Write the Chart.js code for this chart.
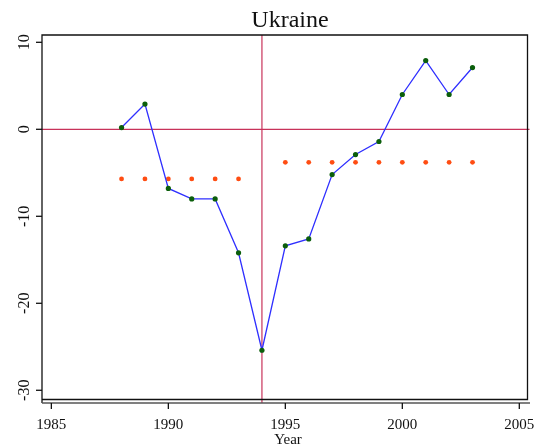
<!DOCTYPE html>
<html>
<head>
<meta charset="utf-8">
<script src="https://cdn.jsdelivr.net/npm/chart.js"></script>
<style>
  body { margin: 0; background: #fff; }
</style>
</head>
<body>
<canvas id="chart" width="548" height="446"></canvas>
<script>
// Ukraine series
const years = [1988, 1989, 1990, 1991, 1992, 1993, 1994, 1995, 1996, 1997, 1998, 1999, 2000, 2001, 2002, 2003];
const values = [0.2, 2.9, -6.8, -8.0, -8.0, -14.2, -25.4, -13.4, -12.6, -5.2, -2.9, -1.4, 4.0, 7.9, 4.0, 7.1];

// period means (orange dots)
const preYears = [1988, 1989, 1990, 1991, 1992, 1993];
const preMean = -5.7;
const postYears = [1995, 1996, 1997, 1998, 1999, 2000, 2001, 2002, 2003];
const postMean = -3.8;

const xTicks = [1985, 1990, 1995, 2000, 2005];
const yTicks = [10, 0, -10, -20, -30];
const breakYear = 1994;

const serif = '"Liberation Serif", "Times New Roman", serif';
const refColor = '#c8325a';

const mainPoints = years.map((y, i) => ({x: y, y: values[i]}));
const meanPoints = preYears.map(y => ({x: y, y: preMean}))
    .concat(postYears.map(y => ({x: y, y: postMean})));

// axes, frame and texts drawn by hand so the labels can sit like Stata's
const stataAxes = {
    id: 'stataAxes',
    beforeDatasetsDraw(chart) {
        const ctx = chart.ctx;
        const a = chart.chartArea;
        const xs = chart.scales.x, ys = chart.scales.y;
        ctx.save();
        ctx.strokeStyle = refColor;
        ctx.lineWidth = 1.2;
        const y0 = ys.getPixelForValue(0);
        ctx.beginPath();
        ctx.moveTo(a.left, y0);
        ctx.lineTo(a.right + 2, y0);
        ctx.stroke();
        const xb = xs.getPixelForValue(breakYear);
        ctx.beginPath();
        ctx.moveTo(xb, a.top);
        ctx.lineTo(xb, a.bottom + 3.5);
        ctx.stroke();
        ctx.restore();
    },
    afterDraw(chart) {
        const ctx = chart.ctx;
        const a = chart.chartArea;
        const xs = chart.scales.x, ys = chart.scales.y;
        ctx.save();

        // frame
        ctx.strokeStyle = '#111';
        ctx.lineWidth = 1.3;
        ctx.beginPath();
        ctx.moveTo(a.left, a.bottom + 3.5);
        ctx.lineTo(a.left, a.top);
        ctx.lineTo(a.right, a.top);
        ctx.lineTo(a.right, a.bottom);
        ctx.lineTo(a.left, a.bottom);
        ctx.stroke();
        // x axis line just below the frame
        ctx.strokeStyle = '#555';
        ctx.beginPath();
        ctx.moveTo(a.left, a.bottom + 3.5);
        ctx.lineTo(a.right + 2.5, a.bottom + 3.5);
        ctx.stroke();

        // y ticks and rotated labels
        ctx.strokeStyle = '#111';
        ctx.fillStyle = '#111';
        ctx.font = '16px ' + serif;
        yTicks.forEach(v => {
            const py = ys.getPixelForValue(v);
            ctx.beginPath();
            ctx.moveTo(a.left - 6, py);
            ctx.lineTo(a.left, py);
            ctx.stroke();
            ctx.save();
            ctx.translate(28.5, py);
            ctx.rotate(-Math.PI / 2);
            ctx.textAlign = 'center';
            ctx.textBaseline = 'alphabetic';
            ctx.fillText(String(v), 0, 0);
            ctx.restore();
        });

        // x ticks and labels
        ctx.font = '15px ' + serif;
        ctx.textAlign = 'center';
        ctx.textBaseline = 'alphabetic';
        xTicks.forEach(v => {
            const px = xs.getPixelForValue(v);
            ctx.beginPath();
            ctx.moveTo(px, a.bottom + 3.5);
            ctx.lineTo(px, a.bottom + 9.5);
            ctx.stroke();
            ctx.fillText(String(v), px, 429);
        });
        ctx.fillText('Year', 288, 444);

        // title
        ctx.font = '24px ' + serif;
        ctx.fillText('Ukraine', 290, 27);
        ctx.restore();
    }
};

const ctx = document.getElementById('chart').getContext('2d');
new Chart(ctx, {
    type: 'scatter',
    data: {
        datasets: [{
            label: 'Ukraine',
            data: mainPoints,
            showLine: true,
            borderColor: '#2f2fff',
            borderWidth: 1.3,
            pointRadius: 0,
            order: 2
        }, {
            label: 'points',
            data: mainPoints,
            showLine: false,
            pointRadius: 2.6,
            pointBackgroundColor: '#0b5e0b',
            pointBorderColor: '#0b5e0b',
            pointBorderWidth: 0,
            order: 1
        }, {
            label: 'means',
            data: meanPoints,
            showLine: false,
            pointRadius: 2.4,
            pointBackgroundColor: '#ff4d12',
            pointBorderColor: '#ff4d12',
            pointBorderWidth: 0,
            order: 3
        }]
    },
    options: {
        responsive: false,
        animation: false,
        layout: {
            padding: {left: 42, top: 35, right: 20.5, bottom: 46.5}
        },
        plugins: {
            legend: {display: false},
            tooltip: {enabled: false}
        },
        scales: {
            x: {type: 'linear', display: false, min: 1984.6, max: 2005.35},
            y: {type: 'linear', display: false, min: -31.06, max: 10.84}
        }
    },
    plugins: [stataAxes]
});
</script>
</body>
</html>
